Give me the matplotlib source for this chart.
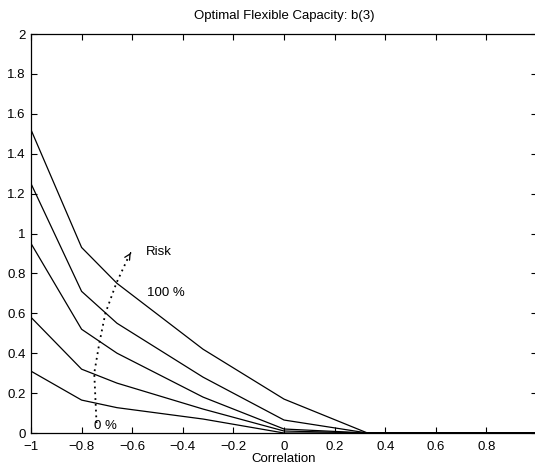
import matplotlib.pyplot as plt

# correlation grid and optimal flexible capacity for each risk level
corr = [-1, -0.8, -0.66, -0.32, 0, 0.33, 1]
b3_100 = [1.52, 0.93, 0.75, 0.42, 0.17, 0, 0]
b3_75 = [1.25, 0.71, 0.55, 0.28, 0.065, 0, 0]
b3_50 = [0.95, 0.52, 0.40, 0.18, 0.02, 0, 0]
b3_25 = [0.58, 0.32, 0.25, 0.12, 0.01, 0, 0]
b3_0 = [0.31, 0.165, 0.127, 0.07, 0.0, 0, 0]

# hand-drawn "risk" arrow (dotted)
risk_x = [-0.741, -0.75, -0.73, -0.706, -0.663, -0.612, -0.6]
risk_y = [0.05, 0.3, 0.45, 0.6, 0.75, 0.89, 0.915]

plt.rcParams['font.family'] = ['Liberation Sans', 'DejaVu Sans']

fig = plt.figure(figsize=(5.35, 4.68), dpi=100)
ax = fig.add_axes([31 / 535, 35 / 468, 506 / 535, 399 / 468])

for ys in [b3_100, b3_75, b3_50, b3_25, b3_0]:
    ax.plot(corr, ys, color='black', lw=0.9)

ax.plot(risk_x[:-1], risk_y[:-1], color='black', lw=1.3, ls=(0, (1, 2.2)))
ax.annotate('', xy=(risk_x[-1], risk_y[-1]), xytext=(risk_x[-2], risk_y[-2]),
            arrowprops=dict(arrowstyle='->', color='black', lw=0.9))

ax.text(-0.545, 0.905, 'Risk', fontsize=9.5, va='center')
ax.text(-0.54, 0.70, '100 %', fontsize=9.5, va='center')
ax.text(-0.75, 0.035, '0 %', fontsize=9.5, va='center')

ax.set_xlim(-1, 1)
ax.set_ylim(0, 2)
ax.set_xticks([-1, -0.8, -0.6, -0.4, -0.2, 0, 0.2, 0.4, 0.6, 0.8])
ax.set_xticklabels(['\u22121', '\u22120.8', '\u22120.6', '\u22120.4', '\u22120.2',
                    '0', '0.2', '0.4', '0.6', '0.8'])
ax.set_yticks([0, 0.2, 0.4, 0.6, 0.8, 1, 1.2, 1.4, 1.6, 1.8, 2])
ax.set_yticklabels(['0', '0.2', '0.4', '0.6', '0.8', '1', '1.2', '1.4', '1.6', '1.8', '2'])
ax.tick_params(direction='in', top=True, right=True, length=4, width=0.8,
               labelsize=9.5)
ax.tick_params(axis='x', pad=6)
ax.tick_params(axis='y', pad=4)
for s in ax.spines.values():
    s.set_linewidth(0.9)

ax.set_title('Optimal Flexible Capacity: b(3)', fontsize=9.5, pad=11)
ax.set_xlabel('Correlation', fontsize=9.5, labelpad=0)

fig.savefig('out.png', dpi=100)
